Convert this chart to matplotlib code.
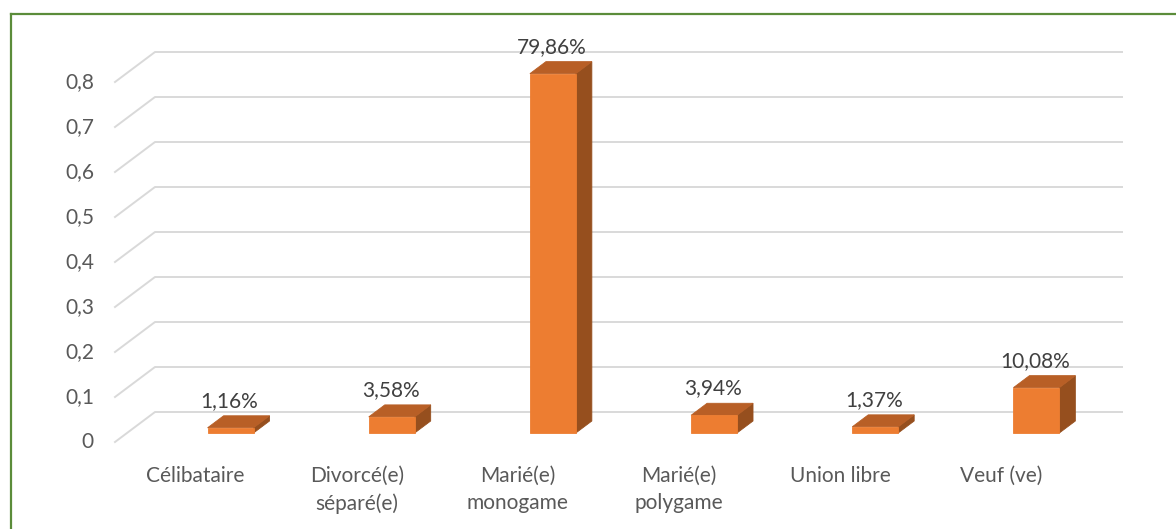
import matplotlib
matplotlib.use("Agg")
import matplotlib.pyplot as plt
from matplotlib.patches import Polygon
from matplotlib.lines import Line2D
from matplotlib.transforms import IdentityTransform
import numpy as np

categories = ["Célibataire", "Divorcé(e)\nséparé(e)", "Marié(e)\nmonogame",
              "Marié(e)\npolygame", "Union libre", "Veuf (ve)"]
values = [0.0116, 0.0358, 0.7986, 0.0394, 0.0137, 0.1008]
value_labels = ["1,16%", "3,58%", "79,86%", "3,94%", "1,37%", "10,08%"]
yticks = [0, 0.1, 0.2, 0.3, 0.4, 0.5, 0.6, 0.7, 0.8]
ytick_labels = ["0", "0,1", "0,2", "0,3", "0,4", "0,5", "0,6", "0,7", "0,8"]

W, H = 1176, 529
fig = plt.figure(figsize=(W / 100, H / 100), dpi=100)
fig.patch.set_facecolor("white")
ax = fig.add_axes([155 / W, 117 / H, (1122 - 155) / W, 360 / H])
ax.set_xlim(-0.5, len(categories) - 0.5)
ax.set_ylim(0, 0.8)
ax.axis("off")

DEPTH_X, DEPTH_Y = -40.0, -30.0  # display offsets from back (t=0) to front (t=1)
font = "Lato"
fs = 15
ident = IdentityTransform()


def proj(x, v, t):
    p = ax.transData.transform((x, v))
    return (p[0] + DEPTH_X * t, p[1] + DEPTH_Y * t)


grid_c = "#D9D9D9"
for v, lab in zip(yticks, ytick_labels):
    b0 = proj(-0.5, v, 0)
    b1 = proj(len(categories) - 0.5, v, 0)
    f0 = proj(-0.5, v, 1)
    ax.add_line(Line2D([f0[0], b0[0], b1[0]], [f0[1], b0[1], b1[1]],
                       transform=ident, color=grid_c, lw=1.4, zorder=1,
                       clip_on=False))
    ax.text(f0[0] - 21, f0[1], lab, transform=ident, ha="right", va="center",
            fontsize=fs, color="#595959", family=font)

bar_w = 0.285
tf, tb = 0.7, 0.3
front_c, top_c, side_c = "#ED7D31", "#B85F26", "#964F1E"
for i, (v, lab) in enumerate(zip(values, value_labels)):
    x0, x1 = i, i + bar_w
    front = [proj(x0, 0, tf), proj(x1, 0, tf), proj(x1, v, tf), proj(x0, v, tf)]
    top = [proj(x0, v, tf), proj(x1, v, tf), proj(x1, v, tb), proj(x0, v, tb)]
    side = [proj(x1, 0, tf), proj(x1, 0, tb), proj(x1, v, tb), proj(x1, v, tf)]
    for poly, c in ((side, side_c), (top, top_c), (front, front_c)):
        ax.add_patch(Polygon(poly, closed=True, transform=ident, facecolor=c,
                             edgecolor=c, lw=0.6, zorder=3, clip_on=False))
    fx = proj(i + bar_w / 2, v, tf)[0]
    by = proj(i + bar_w / 2, v, tb)[1]
    ax.text(fx - 1, by + 15, lab, transform=ident, ha="center", va="center",
            fontsize=fs, color="#404040", family=font, zorder=4)

for i, cat in enumerate(categories):
    p = proj(i, 0, 1)
    ax.text(p[0], p[1] - 24, cat, transform=ident, ha="center", va="top",
            fontsize=fs, color="#595959", family=font, linespacing=1.42)

border_c = "#5B8C3A"
fig.add_artist(Line2D([11 / W, 1.0], [1 - 14 / H, 1 - 14 / H],
                      transform=fig.transFigure, color=border_c, lw=1.6))
fig.add_artist(Line2D([11 / W, 11 / W], [0.0, 1 - 14 / H],
                      transform=fig.transFigure, color=border_c, lw=1.6))

fig.savefig("out.png", dpi=100, facecolor="white")
